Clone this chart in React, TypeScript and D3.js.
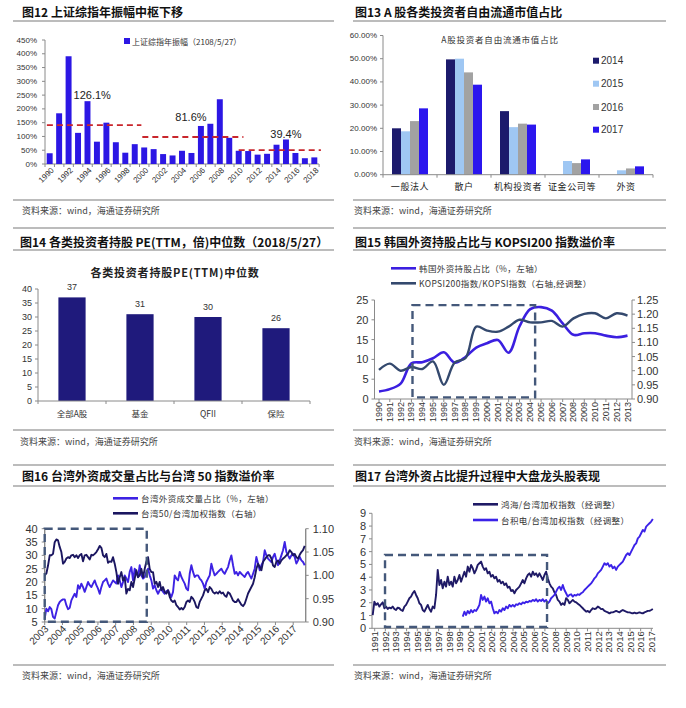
import React from "react";
import * as d3 from "d3";

const LATIN = "'Liberation Sans', Arial, 'Noto Sans CJK SC', sans-serif";
const CJK = "'Noto Sans CJK SC', 'Liberation Sans', sans-serif";
const TICK_TXT = "#333";
const AXIS_CLR = "#8a8a8a";
const RULE_CLR = "#7a7a7a";
const BOX_CLR = "#44587a";
const SOURCE = "资料来源：wind，海通证券研究所";

// ===== Fig 12 =====
const fig12Years = ["1990","1991","1992","1993","1994","1995","1996","1997","1998","1999","2000","2001","2002","2003","2004","2005","2006","2007","2008","2009","2010","2011","2012","2013","2014","2015","2016","2017","2018"];
const fig12Amplitude = [39, 184, 391, 113, 228, 81, 150, 79, 41, 72, 60, 54, 36, 31, 48, 40, 138, 146, 235, 95, 48, 47, 34, 37, 70, 89, 40, 21, 24];
const fig12YTicks = [0, 50, 100, 150, 200, 250, 300, 350, 400, 450];
const fig12MedianFrom = [1990.2, 2000.3, 2010.5];
const fig12MedianTo = [2000.2, 2011.0, 2019.2];
const fig12MedianLevel = [141, 98, 50];
const fig12MedianText = ["126.1%", "81.6%", "39.4%"];
const fig12MedianTextAt = [1995.0, 2005.45, 2015.5];
const fig12MedianTextLevel = [250, 170, 109];

// ===== Fig 13 =====
const fig13Categories = ["一般法人", "散户", "机构投资者", "证金公司等", "外资"];
const fig13Years = ["2014", "2015", "2016", "2017"];
const fig13Share2014 = [20.0, 49.7, 27.4, null, null];
const fig13Share2015 = [18.7, 50.0, 20.5, 5.9, 1.9];
const fig13Share2016 = [23.1, 44.1, 22.0, 5.0, 2.7];
const fig13Share2017 = [28.6, 38.8, 21.6, 6.6, 3.6];
const fig13Colors = ["#1c1a6c", "#9fc7f3", "#a2a2a2", "#2b16ee"];
const fig13YTicks = [0, 10, 20, 30, 40, 50, 60];

// ===== Fig 14 =====
const fig14Categories = ["全部A股", "基金", "QFII", "保险"];
const fig14PE = [37, 31, 30, 26];
const fig14YTicks = [0, 5, 10, 15, 20, 25, 30, 35, 40];

// ===== Fig 15 =====
const fig15Years = [1990,1991,1992,1993,1994,1995,1996,1997,1998,1999,2000,2001,2002,2003,2004,2005,2006,2007,2008,2009,2010,2011,2012,2013];
const fig15ForeignShare = [1.9, 2.5, 3.9, 9.0, 9.3, 10.3, 11.8, 9.2, 10.6, 13.0, 14.1, 14.9, 11.7, 18.3, 22.7, 23.2, 22.3, 19.1, 16.2, 16.6, 16.6, 16.0, 15.6, 16.0];
const fig15KospiRatio = [1.003, 1.025, 1.000, 1.013, 1.006, 1.033, 0.950, 1.029, 1.044, 1.156, 1.142, 1.138, 1.156, 1.180, 1.171, 1.171, 1.176, 1.156, 1.185, 1.201, 1.203, 1.185, 1.203, 1.195];
const fig15LeftTicks = [0, 5, 10, 15, 20, 25];
const fig15RightTicks = [0.9, 0.95, 1.0, 1.05, 1.1, 1.15, 1.2, 1.25];
const fig15Box = { from: 1993.1, to: 2004.45, low: 0.4, high: 23.7 };

// ===== Fig 16 =====
const fig16Start = 2003.0;
const fig16Step = 0.0939;
const fig16ForeignShare = [
  6.3, 10.0, 9.0, 10.6, 9.8, 6.9, 6.3, 8.8, 11.3, 12.5,
  13.1, 13.5, 13.5, 11.3, 9.8, 10.3, 13.1, 14.4, 15.6, 14.4,
  18.8, 17.5, 19.4, 18.1, 16.3, 18.1, 20.0, 18.8, 18.1, 19.4,
  20.6, 18.8, 17.5, 15.6, 18.1, 20.0, 20.6, 21.3, 19.4, 18.1,
  19.4, 20.6, 20.0, 19.4, 22.5, 20.6, 18.1, 20.0, 22.5, 21.3,
  20.0, 23.8, 25.6, 20.6, 25.0, 23.8, 21.9, 26.3, 22.5, 21.3,
  21.9, 23.8, 25.0, 22.5, 20.6, 17.5, 18.8, 16.9, 15.6, 16.9,
  17.5, 16.3, 15.6, 16.5, 16.9, 15.6, 14.4, 16.3, 22.5, 21.3,
  20.6, 23.8, 21.9, 20.6, 19.4, 17.5, 16.9, 23.1, 26.3, 23.8,
  21.9, 22.5, 22.5, 21.3, 20.6, 19.4, 17.5, 20.0, 21.3, 22.5,
  26.9, 24.4, 22.5, 23.1, 23.8, 24.4, 25.0, 23.8, 23.1, 24.4,
  25.6, 28.1, 30.0, 26.3, 23.1, 23.8, 22.5, 23.8, 23.1, 22.5,
  21.9, 23.1, 23.8, 22.5, 21.3, 23.1, 25.0, 29.4, 26.9, 24.4,
  26.3, 27.5, 31.9, 30.0, 28.8, 28.1, 27.5, 29.4, 30.6, 28.1,
  26.3, 28.1, 30.0, 31.9, 35.0, 31.3, 30.0, 28.8, 30.0, 30.6,
  29.4, 26.9, 28.1, 29.4, 28.1, 27.5, 26.3
];
const fig16Tw50Ratio = [
  1.000, 1.004, 1.021, 1.043, 1.043, 1.046, 1.071, 1.077, 1.075, 1.061,
  1.050, 1.025, 1.029, 1.036, 1.039, 1.037, 1.043, 1.044, 1.039, 1.043,
  1.037, 1.043, 1.046, 1.030, 1.043, 1.044, 1.039, 1.034, 1.044, 1.043,
  1.046, 1.050, 1.056, 1.063, 1.059, 1.043, 1.039, 1.046, 1.027, 1.030,
  1.029, 1.039, 1.025, 1.007, 0.982, 0.996, 1.007, 0.989, 0.996, 0.961,
  0.971, 0.968, 0.986, 0.975, 0.993, 1.011, 0.996, 1.000, 1.014, 0.996,
  1.014, 1.029, 1.039, 1.014, 1.007, 1.007, 0.982, 0.986, 0.975, 0.986,
  0.968, 0.975, 0.964, 0.961, 0.968, 0.954, 0.946, 0.943, 0.946, 0.936,
  0.932, 0.927, 0.930, 0.927, 0.932, 0.943, 0.946, 0.943, 0.954, 0.950,
  0.943, 0.932, 0.930, 0.943, 0.950, 0.957, 0.968, 0.971, 0.964, 0.975,
  0.971, 0.964, 0.961, 0.964, 0.961, 0.966, 0.961, 0.963, 0.957, 0.954,
  0.964, 0.961, 0.954, 0.946, 0.943, 0.943, 0.949, 0.943, 0.937, 0.934,
  0.939, 0.950, 0.961, 0.968, 0.975, 0.982, 0.996, 1.014, 1.025, 1.018,
  1.011, 1.029, 1.034, 1.039, 1.043, 1.043, 1.036, 1.021, 1.018, 1.029,
  1.032, 1.025, 1.032, 1.036, 1.039, 1.043, 1.046, 1.054, 1.050, 1.043,
  1.046, 1.039, 1.036, 1.044, 1.050, 1.054, 1.063
];
const fig16Years = ["2003","2004","2005","2006","2007","2008","2009","2010","2011","2012","2013","2014","2015","2016","2017"];
const fig16LeftTicks = [5, 10, 15, 20, 25, 30, 35, 40];
const fig16RightTicks = [0.9, 0.95, 1.0, 1.05, 1.1];
const fig16Box = { from: 2003.0, to: 2008.75, low: 5.1, high: 40 };

// ===== Fig 17 =====
const fig17HonHaiStart = 1990.812;
const fig17TsmcStart = 1999.276;
const fig17Step = 0.15674;
const fig17HonHai = [
  1.04, 2.09, 1.83, 1.96, 1.70, 1.88, 2.03, 1.57, 1.70, 1.51,
  1.62, 1.57, 1.70, 1.51, 1.43, 1.62, 1.57, 1.43, 1.36, 1.70,
  1.83, 2.09, 2.35, 2.48, 2.74, 2.92, 2.61, 2.35, 1.96, 1.83,
  1.43, 1.30, 1.57, 1.83, 1.51, 1.30, 1.70, 1.57, 2.61, 4.57,
  3.39, 3.78, 3.13, 3.65, 3.26, 4.04, 3.39, 3.65, 3.26, 4.04,
  3.52, 3.78, 4.17, 3.65, 4.04, 4.43, 4.04, 4.83, 4.43, 4.96,
  4.70, 4.30, 4.57, 4.96, 5.09, 5.22, 4.83, 4.57, 4.70, 4.30,
  4.43, 4.04, 4.17, 3.91, 4.04, 3.65, 3.78, 3.52, 3.65, 3.39,
  3.52, 3.18, 3.26, 2.92, 3.00, 2.74, 3.00, 3.13, 3.26, 3.52,
  3.78, 3.52, 3.91, 4.17, 4.30, 4.04, 4.43, 4.17, 4.30, 4.04,
  4.30, 4.04, 3.78, 4.17, 4.43, 3.91, 3.52, 3.26, 3.13, 2.82,
  2.61, 2.22, 2.09, 1.83, 1.96, 1.83, 2.35, 2.22, 1.96, 2.09,
  2.22, 2.09, 2.03, 1.93, 1.83, 1.70, 1.57, 1.43, 1.30, 1.36,
  1.25, 1.43, 1.57, 1.51, 1.55, 1.70, 1.62, 1.50, 1.51, 1.36,
  1.30, 1.25, 1.17, 1.25, 1.25, 1.30, 1.36, 1.30, 1.25, 1.36,
  1.43, 1.36, 1.30, 1.25, 1.25, 1.20, 1.17, 1.23, 1.17, 1.20,
  1.25, 1.20, 1.17, 1.25, 1.30, 1.36, 1.36, 1.43, 1.51
];
const fig17Tsmc = [
  0.91, 1.30, 1.04, 1.36, 1.17, 1.43, 1.25, 1.43, 1.36, 1.57,
  1.83, 2.61, 2.22, 2.48, 2.09, 2.35, 1.96, 2.09, 1.57, 1.17,
  1.30, 1.17, 1.43, 1.30, 1.57, 1.43, 1.70, 1.57, 1.83, 1.70,
  1.83, 1.70, 1.88, 1.83, 1.96, 1.88, 2.03, 1.96, 2.09, 2.03,
  2.14, 2.09, 2.22, 2.14, 2.27, 2.09, 2.22, 2.14, 2.27, 2.09,
  2.22, 1.96, 2.09, 2.35, 2.48, 2.61, 2.87, 3.13, 3.26, 3.00,
  3.39, 3.00, 2.74, 2.48, 2.61, 2.66, 2.48, 2.61, 2.56, 2.66,
  2.61, 2.74, 2.82, 3.00, 3.13, 3.26, 3.39, 3.52, 3.70, 3.91,
  4.04, 4.30, 4.43, 4.57, 4.83, 5.09, 4.96, 5.09, 4.83, 4.96,
  4.70, 4.83, 4.57, 4.83, 4.96, 5.09, 5.22, 5.48, 5.74, 5.87,
  5.74, 6.00, 6.26, 6.52, 6.65, 7.04, 7.17, 7.44, 7.70, 7.57,
  7.96, 8.09, 8.22, 8.35, 8.56
];
const fig17Years = d3.range(1991, 2018);
const fig17YTicks = [0, 1, 2, 3, 4, 5, 6, 7, 8, 9];
const fig17Box = { from: 1991.97, to: 2007.2, low: 0.1, high: 5.74 };

// ---------- shared pieces ----------
function Rule({ x1, x2, y }: any) {
  return <line x1={x1} x2={x2} y1={y} y2={y} stroke={RULE_CLR} strokeWidth={1.2} />;
}
function Title({ x, y, children }: any) {
  return (
    <text x={x} y={y} fontFamily={CJK} fontWeight={700} fontSize={12} fill="#111" dominantBaseline="central">
      {children}
    </text>
  );
}
function Source({ x, y }: any) {
  return (
    <text x={x} y={y} fontFamily={CJK} fontSize={9} fill="#444" dominantBaseline="central">
      {SOURCE}
    </text>
  );
}
function LegendLine({ x1, x2, y, color, width, label, fontSize = 8.5 }: any) {
  return (
    <g>
      <line x1={x1} x2={x2} y1={y} y2={y} stroke={color} strokeWidth={width} />
      <text x={x2 + 3} y={y} fontFamily={CJK} fontSize={fontSize} fill="#333" dominantBaseline="central" letterSpacing={0.4}>
        {label}
      </text>
    </g>
  );
}
function DashBox({ x0, x1, y0, y1 }: any) {
  return (
    <rect x={Math.min(x0, x1)} y={Math.min(y0, y1)} width={Math.abs(x1 - x0)} height={Math.abs(y1 - y0)}
      fill="none" stroke={BOX_CLR} strokeWidth={2.4} strokeDasharray="8,5" />
  );
}

// ---------- Fig 12 ----------
function Fig12() {
  const L = 45, R = 319, T = 40, B = 164;
  const x = d3.scaleBand<string>().domain(fig12Years).range([L, R]).paddingInner(0.37).paddingOuter(0.18);
  const xl = d3.scaleLinear().domain([1990, 2019]).range([L, R]);
  const y = d3.scaleLinear().domain([0, 450]).range([B, T]);
  const step = x.step();
  return (
    <g>
      <Title x={22} y={11}>图12 上证综指年振幅中枢下移</Title>
      <Rule x1={13} x2={334} y={21} />
      {fig12YTicks.map((t) => (
        <g key={t}>
          <line x1={L - 3} x2={L} y1={y(t)} y2={y(t)} stroke={AXIS_CLR} />
          <text x={L - 8} y={y(t)} textAnchor="end" dominantBaseline="central" fontSize={8} fill={TICK_TXT}>{t}%</text>
        </g>
      ))}
      <line x1={L} x2={L} y1={T} y2={B} stroke={AXIS_CLR} />
      <line x1={L} x2={R} y1={B} y2={B} stroke={AXIS_CLR} />
      {d3.range(fig12Years.length + 1).map((k) => (
        <line key={k} x1={L + k * step} x2={L + k * step} y1={B} y2={B + 3} stroke={AXIS_CLR} />
      ))}
      {fig12Years.map((yr, i) => (
        <rect key={yr} x={x(yr)} y={y(fig12Amplitude[i])} width={x.bandwidth()} height={B - y(fig12Amplitude[i])} fill="#2c17e4" />
      ))}
      {fig12Years.map((yr, i) =>
        i % 2 === 0 ? (
          <text key={yr} transform={`translate(${(x(yr) as number) + x.bandwidth() / 2 + 3},${B + 5}) rotate(-45)`}
            textAnchor="end" dominantBaseline="central" fontSize={8} fill={TICK_TXT}>{yr}</text>
        ) : null
      )}
      {fig12MedianLevel.map((lv, i) => (
        <line key={i} x1={xl(fig12MedianFrom[i])} x2={xl(fig12MedianTo[i])} y1={y(lv)} y2={y(lv)}
          stroke="#c9262c" strokeWidth={1.8} strokeDasharray="6,4" />
      ))}
      {fig12MedianText.map((t, i) => (
        <text key={t} x={xl(fig12MedianTextAt[i])} y={y(fig12MedianTextLevel[i])} textAnchor="middle"
          dominantBaseline="central" fontSize={11} fill="#222">{t}</text>
      ))}
      <rect x={124} y={38} width={6} height={6} fill="#2c17e4" />
      <text x={132} y={41} fontFamily={CJK} fontSize={8} fill="#333" dominantBaseline="central">上证综指年振幅（2108/5/27）</text>
      <Rule x1={13} x2={334} y={200} />
      <Source x={22} y={210} />
      <Rule x1={13} x2={334} y={228} />
    </g>
  );
}

// ---------- Fig 13 ----------
function Fig13() {
  const L = 383, R = 653, T = 35.5, B = 174.7;
  const x0 = d3.scaleBand<string>().domain(fig13Categories).range([L, R]).paddingInner(1 / 3).paddingOuter(1 / 6);
  const x1 = d3.scaleBand<string>().domain(fig13Years).range([0, x0.bandwidth()]);
  const y = d3.scaleLinear().domain([0, 60]).range([B, T]);
  const series = [fig13Share2014, fig13Share2015, fig13Share2016, fig13Share2017];
  const step = x0.step();
  const legendY = [60.7, 83.7, 107, 129.7];
  return (
    <g>
      <Title x={355} y={11}>图13 A 股各类投资者自由流通市值占比</Title>
      <Rule x1={353} x2={666} y={21} />
      <text x={500} y={39} textAnchor="middle" dominantBaseline="central" fontFamily={CJK} fontSize={8.5} letterSpacing={0.8} fill="#333">A股投资者自由流通市值占比</text>
      {fig13YTicks.map((t) => (
        <g key={t}>
          <line x1={L - 3} x2={L} y1={y(t)} y2={y(t)} stroke={AXIS_CLR} />
          <text x={L - 6} y={y(t)} textAnchor="end" dominantBaseline="central" fontSize={8} fill={TICK_TXT}>{t.toFixed(2)}%</text>
        </g>
      ))}
      <line x1={L} x2={L} y1={T} y2={B} stroke={AXIS_CLR} />
      {fig13Categories.map((c, ci) =>
        series.map((s, si) =>
          s[ci] == null ? null : (
            <rect key={c + si} x={(x0(c) as number) + (x1(fig13Years[si]) as number)} y={y(s[ci] as number)}
              width={x1.bandwidth()} height={B - y(s[ci] as number)} fill={fig13Colors[si]} />
          )
        )
      )}
      <line x1={L} x2={R} y1={B} y2={B} stroke={AXIS_CLR} />
      {d3.range(fig13Categories.length + 1).map((k) => (
        <line key={k} x1={L + k * step} x2={L + k * step} y1={B} y2={B + 3} stroke={AXIS_CLR} />
      ))}
      {fig13Categories.map((c) => (
        <text key={c} x={(x0(c) as number) + x0.bandwidth() / 2} y={186} textAnchor="middle" dominantBaseline="central"
          fontFamily={CJK} fontSize={9} letterSpacing={0.6} fill="#222">{c}</text>
      ))}
      {fig13Years.map((yr, i) => (
        <g key={yr}>
          <rect x={593} y={legendY[i] - 3} width={6} height={6} fill={fig13Colors[i]} />
          <text x={601} y={legendY[i]} dominantBaseline="central" fontSize={10} fill="#333">{yr}</text>
        </g>
      ))}
      <Rule x1={353} x2={666} y={200} />
      <Source x={354} y={210} />
      <Rule x1={353} x2={666} y={228} />
    </g>
  );
}

// ---------- Fig 14 ----------
function Fig14() {
  const L = 38, R = 310, T = 289, B = 401;
  const x = d3.scaleBand<string>().domain(fig14Categories).range([L, R]).paddingInner(0.6).paddingOuter(0.3);
  const y = d3.scaleLinear().domain([0, 40]).range([B, T]);
  const step = x.step();
  return (
    <g>
      <Title x={20} y={241}>图14 各类投资者持股 PE(TTM，倍)中位数（2018/5/27）</Title>
      <Rule x1={13} x2={334} y={250} />
      <text x={175} y={272} textAnchor="middle" dominantBaseline="central" fontFamily={CJK} fontWeight={700} fontSize={11} letterSpacing={0.8} fill="#222">各类投资者持股PE(TTM)中位数</text>
      {fig14YTicks.map((t) => (
        <g key={t}>
          <line x1={L - 3} x2={L} y1={y(t)} y2={y(t)} stroke={AXIS_CLR} />
          <text x={L - 6} y={y(t)} textAnchor="end" dominantBaseline="central" fontSize={9} fill={TICK_TXT}>{t}</text>
        </g>
      ))}
      <line x1={L} x2={L} y1={T} y2={B} stroke={AXIS_CLR} />
      {fig14Categories.map((c, i) => (
        <g key={c}>
          <rect x={x(c)} y={y(fig14PE[i])} width={x.bandwidth()} height={B - y(fig14PE[i])} fill="#1f1a7c" />
          <text x={(x(c) as number) + x.bandwidth() / 2} y={y(fig14PE[i]) - 10} textAnchor="middle" dominantBaseline="central" fontSize={9} fill="#333">{fig14PE[i]}</text>
          <text x={(x(c) as number) + x.bandwidth() / 2} y={413} textAnchor="middle" dominantBaseline="central" fontFamily={CJK} fontSize={8.5} fill="#333">{c}</text>
        </g>
      ))}
      <line x1={L} x2={R} y1={B} y2={B} stroke={AXIS_CLR} />
      {d3.range(fig14Categories.length + 1).map((k) => (
        <line key={k} x1={L + k * step} x2={L + k * step} y1={B} y2={B + 3} stroke={AXIS_CLR} />
      ))}
      <Rule x1={13} x2={334} y={430} />
      <Source x={20} y={441} />
    </g>
  );
}

// ---------- Fig 15 ----------
function Fig15() {
  const L = 374.5, R = 632, T = 300, B = 399;
  const x = d3.scaleLinear().domain([1990, 2013]).range([379, 627.5]);
  const yL = d3.scaleLinear().domain([0, 25]).range([B, T]);
  const yR = d3.scaleLinear().domain([0.9, 1.25]).range([B, T]);
  const lineA = d3.line<number>().x((_, i) => x(fig15Years[i])).y((d) => yL(d)).curve(d3.curveCatmullRom.alpha(0.5));
  const lineB = d3.line<number>().x((_, i) => x(fig15Years[i])).y((d) => yR(d)).curve(d3.curveCatmullRom.alpha(0.5));
  return (
    <g>
      <Title x={355} y={241}>图15 韩国外资持股占比与 KOPSI200 指数溢价率</Title>
      <Rule x1={353} x2={666} y={250} />
      <LegendLine x1={391} x2={416} y={268.3} color="#3b1fe0" width={2.6} label="韩国外资持股占比（%，左轴）" />
      <LegendLine x1={391} x2={416} y={283.3} color="#34496e" width={2.6} label="KOPSI200指数/KOPSI指数（右轴,经调整）" />
      {fig15LeftTicks.map((t) => (
        <g key={t}>
          <line x1={L - 3} x2={L} y1={yL(t)} y2={yL(t)} stroke={AXIS_CLR} />
          <text x={L - 6} y={yL(t)} textAnchor="end" dominantBaseline="central" fontSize={11} fill={TICK_TXT}>{t}</text>
        </g>
      ))}
      {fig15RightTicks.map((t) => (
        <g key={t}>
          <line x1={R} x2={R + 3} y1={yR(t)} y2={yR(t)} stroke={AXIS_CLR} />
          <text x={R + 5} y={yR(t)} dominantBaseline="central" fontSize={11} fill={TICK_TXT}>{t.toFixed(2)}</text>
        </g>
      ))}
      <line x1={L} x2={L} y1={T} y2={B} stroke={AXIS_CLR} />
      <line x1={R} x2={R} y1={T} y2={B} stroke={AXIS_CLR} />
      <line x1={L} x2={R} y1={B} y2={B} stroke={AXIS_CLR} />
      {fig15Years.map((yr) => (
        <g key={yr}>
          <line x1={x(yr)} x2={x(yr)} y1={B} y2={B + 3} stroke={AXIS_CLR} />
          <text transform={`translate(${x(yr)},${B + 3}) rotate(-90)`} textAnchor="end" dominantBaseline="central" fontSize={9} fill={TICK_TXT}>{yr}</text>
        </g>
      ))}
      <path d={lineA(fig15ForeignShare) as string} fill="none" stroke="#3b1fe0" strokeWidth={2.6} />
      <path d={lineB(fig15KospiRatio) as string} fill="none" stroke="#34496e" strokeWidth={2.4} />
      <DashBox x0={x(fig15Box.from)} x1={x(fig15Box.to)} y0={yL(fig15Box.high)} y1={yL(fig15Box.low)} />
      <Rule x1={353} x2={666} y={430} />
      <Source x={354} y={441} />
    </g>
  );
}

// ---------- Fig 16 ----------
function Fig16() {
  const L = 44.7, R = 305.7, T = 528.7, B = 622;
  const x = d3.scaleLinear().domain([2003, 2017]).range([44.7, 293.2]);
  const yL = d3.scaleLinear().domain([5, 40]).range([B, T]);
  const yR = d3.scaleLinear().domain([0.9, 1.1]).range([B, T]);
  const lineA = d3.line<number>().x((_, i) => x(fig16Start + i * fig16Step)).y((d) => yL(d));
  const lineB = d3.line<number>().x((_, i) => x(fig16Start + i * fig16Step)).y((d) => yR(d));
  return (
    <g>
      <Rule x1={13} x2={334} y={465} />
      <Title x={22} y={475}>图16 台湾外资成交量占比与台湾 50 指数溢价率</Title>
      <Rule x1={13} x2={334} y={486} />
      <LegendLine x1={113} x2={138} y={498.3} color="#3d22e3" width={2.6} label="台湾外资成交量占比（%，左轴）" />
      <LegendLine x1={113} x2={138} y={513.3} color="#1b1660" width={2.6} label="台湾50/台湾加权指数（右轴）" />
      {fig16LeftTicks.map((t) => (
        <g key={t}>
          <line x1={L - 3} x2={L} y1={yL(t)} y2={yL(t)} stroke={AXIS_CLR} />
          <text x={L - 7} y={yL(t)} textAnchor="end" dominantBaseline="central" fontSize={11} fill={TICK_TXT}>{t}</text>
        </g>
      ))}
      {fig16RightTicks.map((t) => (
        <g key={t}>
          <line x1={R} x2={R + 3} y1={yR(t)} y2={yR(t)} stroke={AXIS_CLR} />
          <text x={R + 7} y={yR(t)} dominantBaseline="central" fontSize={11} fill={TICK_TXT}>{t.toFixed(2)}</text>
        </g>
      ))}
      <line x1={L} x2={L} y1={T} y2={B} stroke={AXIS_CLR} strokeWidth={1.4} />
      <line x1={R} x2={R} y1={T} y2={B} stroke={AXIS_CLR} strokeWidth={1.4} />
      <line x1={L} x2={R} y1={B} y2={B} stroke={AXIS_CLR} strokeWidth={1.2} />
      {fig16Years.map((yr) => (
        <g key={yr}>
          <line x1={x(+yr)} x2={x(+yr)} y1={B} y2={B + 3} stroke={AXIS_CLR} />
          <text transform={`translate(${x(+yr) + 2},${B + 5}) rotate(-45)`} textAnchor="end" dominantBaseline="central" fontSize={10} fill={TICK_TXT}>{yr}</text>
        </g>
      ))}
      <path d={lineA(fig16ForeignShare) as string} fill="none" stroke="#3d22e3" strokeWidth={1.9} strokeLinejoin="round" />
      <path d={lineB(fig16Tw50Ratio) as string} fill="none" stroke="#1b1660" strokeWidth={1.9} strokeLinejoin="round" />
      <DashBox x0={x(fig16Box.from)} x1={x(fig16Box.to)} y0={yL(fig16Box.high)} y1={yL(fig16Box.low)} />
      <Rule x1={13} x2={334} y={665} />
      <Source x={22} y={675} />
    </g>
  );
}

// ---------- Fig 17 ----------
function Fig17() {
  const L = 372, R = 653, T = 513.3, B = 628.3;
  const x = d3.scaleLinear().domain([1991, 2017]).range([374.7, 651.3]);
  const y = d3.scaleLinear().domain([0, 9]).range([B, T]);
  const lineH = d3.line<number>().x((_, i) => x(fig17HonHaiStart + i * fig17Step)).y((d) => y(d));
  const lineT = d3.line<number>().x((_, i) => x(fig17TsmcStart + i * fig17Step)).y((d) => y(d));
  return (
    <g>
      <Rule x1={353} x2={666} y={465} />
      <Title x={355} y={475}>图17 台湾外资占比提升过程中大盘龙头股表现</Title>
      <Rule x1={353} x2={666} y={486} />
      <LegendLine x1={473} x2={498} y={504.3} color="#1f1a66" width={2.6} label="鸿海/台湾加权指数（经调整）" />
      <LegendLine x1={473} x2={498} y={520} color="#3b22e8" width={2.6} label="台积电/台湾加权指数（经调整）" />
      {fig17YTicks.map((t) => (
        <g key={t}>
          <line x1={L - 3} x2={L} y1={y(t)} y2={y(t)} stroke={AXIS_CLR} />
          <text x={L - 6} y={y(t)} textAnchor="end" dominantBaseline="central" fontSize={11} fill={TICK_TXT}>{t}</text>
        </g>
      ))}
      <line x1={L} x2={L} y1={T} y2={B} stroke={AXIS_CLR} />
      <line x1={L} x2={R} y1={B} y2={B} stroke={AXIS_CLR} />
      {fig17Years.map((yr) => (
        <g key={yr}>
          <line x1={x(yr)} x2={x(yr)} y1={B} y2={B + 3} stroke={AXIS_CLR} />
          <text transform={`translate(${x(yr)},${B + 3}) rotate(-90)`} textAnchor="end" dominantBaseline="central" fontSize={9.5} fill={TICK_TXT}>{yr}</text>
        </g>
      ))}
      <path d={lineH(fig17HonHai) as string} fill="none" stroke="#1f1a66" strokeWidth={1.9} strokeLinejoin="round" />
      <path d={lineT(fig17Tsmc) as string} fill="none" stroke="#3b22e8" strokeWidth={1.9} strokeLinejoin="round" />
      <DashBox x0={x(fig17Box.from)} x1={x(fig17Box.to)} y0={y(fig17Box.high)} y1={y(fig17Box.low)} />
      <Rule x1={353} x2={666} y={665} />
      <Source x={354} y={675} />
    </g>
  );
}

export default function App() {
  return (
    <svg width={686} height={708} viewBox="0 0 686 708" fontFamily={LATIN}
      style={{ position: "absolute", left: 0, top: 0, background: "#fff", display: "block" }}>
      <rect x={0} y={0} width={686} height={708} fill="#fff" />
      <Fig12 />
      <Fig13 />
      <Fig14 />
      <Fig15 />
      <Fig16 />
      <Fig17 />
    </svg>
  );
}
